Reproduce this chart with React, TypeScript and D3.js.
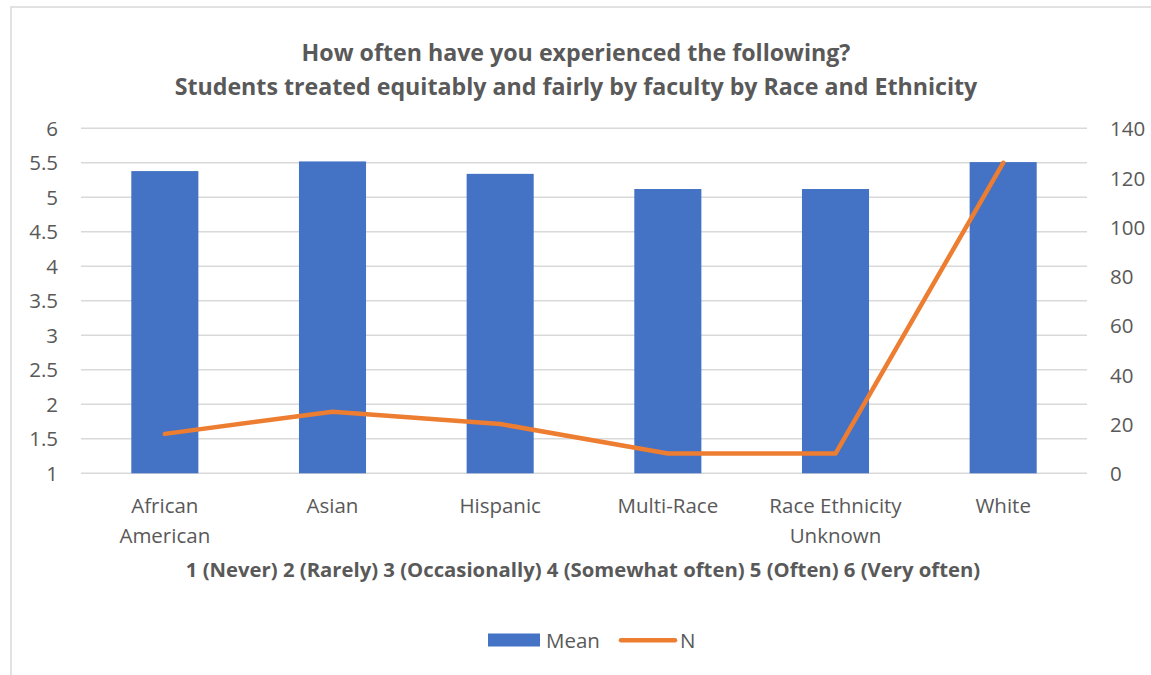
import React from "react";
import * as d3 from "d3";

// Survey results by race and ethnicity
const categories = [
  "African American",
  "Asian",
  "Hispanic",
  "Multi-Race",
  "Race Ethnicity Unknown",
  "White",
];
const categoryLines: string[][] = [
  ["African", "American"],
  ["Asian"],
  ["Hispanic"],
  ["Multi-Race"],
  ["Race Ethnicity", "Unknown"],
  ["White"],
];
const meanValues = [5.38, 5.52, 5.34, 5.12, 5.12, 5.51];
const nValues = [16, 25, 20, 8, 8, 126];
const leftTicks = [1, 1.5, 2, 2.5, 3, 3.5, 4, 4.5, 5, 5.5, 6];
const rightTicks = [0, 20, 40, 60, 80, 100, 120, 140];

const titleLines = [
  "How often have you experienced the following?",
  "Students treated equitably and fairly by faculty by Race and Ethnicity",
];
const axisTitle =
  "1 (Never) 2 (Rarely) 3 (Occasionally) 4 (Somewhat often) 5 (Often) 6 (Very often)";

const W = 1151;
const H = 675;
const FONT = "'Open Sans', Lato, sans-serif";
const TEXT = "#595959";
const GRID = "#d9d9d9";
const BLUE = "#4472C4";
const ORANGE = "#ED7D31";
const LABEL_SIZE = 20.5;

export default function App() {
  const plotLeft = 81;
  const plotRight = 1087;
  const plotTop = 128.3;
  const plotBottom = 473.3;

  const x = d3
    .scaleBand<string>()
    .domain(categories)
    .range([plotLeft, plotRight])
    .paddingInner(0.6)
    .paddingOuter(0.3);
  const yLeft = d3.scaleLinear().domain([1, 6]).range([plotBottom, plotTop]);
  const yRight = d3.scaleLinear().domain([0, 140]).range([plotBottom, plotTop]);

  const cx = (c: string) => (x(c) ?? 0) + x.bandwidth() / 2;

  const line = d3
    .line<number>()
    .x((_, i) => cx(categories[i]))
    .y((d) => yRight(d));

  return (
    <svg
      width={W}
      height={H}
      style={{ position: "absolute", left: 0, top: 0, display: "block" }}
      fontFamily={FONT}
    >
      <rect x={0} y={0} width={W} height={H} fill="#fff" />
      <rect
        x={11}
        y={7}
        width={W + 20}
        height={H + 20}
        fill="#fff"
        stroke={GRID}
        strokeWidth={1.5}
      />

      {/* title */}
      {titleLines.map((t, i) => (
        <text
          key={t}
          x={576}
          y={61 + i * 34}
          textAnchor="middle"
          fontSize={23.2}
          fontWeight="bold"
          fill={TEXT}
        >
          {t}
        </text>
      ))}

      {/* gridlines */}
      {leftTicks.map((t) => (
        <line
          key={t}
          x1={plotLeft}
          x2={plotRight}
          y1={yLeft(t)}
          y2={yLeft(t)}
          stroke={GRID}
          strokeWidth={1.5}
        />
      ))}

      {/* left axis labels */}
      {leftTicks.map((t) => (
        <text
          key={t}
          x={58}
          y={yLeft(t) + 7.5}
          textAnchor="end"
          fontSize={LABEL_SIZE}
          fill={TEXT}
        >
          {t}
        </text>
      ))}

      {/* right axis labels */}
      {rightTicks.map((t) => (
        <text
          key={t}
          x={1110}
          y={yRight(t) + 8}
          textAnchor="start"
          fontSize={LABEL_SIZE}
          fill={TEXT}
        >
          {t}
        </text>
      ))}

      {/* bars */}
      {categories.map((c, i) => (
        <rect
          key={c}
          x={x(c)}
          y={yLeft(meanValues[i])}
          width={x.bandwidth()}
          height={plotBottom - yLeft(meanValues[i])}
          fill={BLUE}
        />
      ))}

      {/* N line */}
      <path
        d={line(nValues) ?? ""}
        fill="none"
        stroke={ORANGE}
        strokeWidth={4.5}
        strokeLinejoin="round"
        strokeLinecap="round"
      />

      {/* category labels */}
      {categories.map((c, i) => (
        <text key={c} textAnchor="middle" fontSize={LABEL_SIZE} fill={TEXT}>
          {categoryLines[i].map((l, j) => (
            <tspan key={l} x={cx(c)} y={513 + j * 30}>
              {l}
            </tspan>
          ))}
        </text>
      ))}

      {/* axis title */}
      <text
        x={583}
        y={577}
        textAnchor="middle"
        fontSize={20.3}
        fontWeight="bold"
        fill={TEXT}
      >
        {axisTitle}
      </text>

      {/* legend */}
      <rect x={488} y={633.5} width={52} height={13} fill={BLUE} />
      <text x={546} y={647.5} fontSize={LABEL_SIZE} fill={TEXT}>
        Mean
      </text>
      <line
        x1={621}
        x2={675}
        y1={640.3}
        y2={640.3}
        stroke={ORANGE}
        strokeWidth={4.5}
        strokeLinecap="round"
      />
      <text x={680} y={647.5} fontSize={LABEL_SIZE} fill={TEXT}>
        N
      </text>
    </svg>
  );
}
